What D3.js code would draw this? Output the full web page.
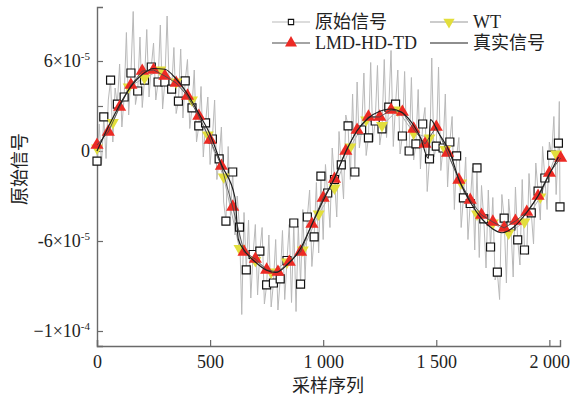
<!DOCTYPE html>
<html><head><meta charset="utf-8">
<script src="https://cdn.jsdelivr.net/npm/d3@7"></script>
<style>
html,body{margin:0;padding:0;background:#fff;}
svg{display:block;}
text{font-family:"Liberation Serif","Times New Roman","Noto Sans CJK SC",serif;}
</style></head><body>
<svg id="c" width="585" height="399"></svg>
<script>
// ---- data (y values in units of 1e-5) ----
const rawStep = 10; // 原始信号 sampled every 10 points
const rawValues = [
 -0.67, 1.8, -0.9, 2.27, -0.5, 3.4, 4.73, 0.6, 4.2, 3.13,
 5.8, 1.6, 3.6, 7.9, 2.4, 5.2, 9.3, 3.1, 4.0, 7.6,
 2.9, 4.73, 8.1, 3.6, 5.6, 7.2, 3.4, 4.6, 8.4, 2.8,
 4.6, 9.0, 3.9, 4.13, 6.9, 2.5, 3.33, 6.8, 2.2, 4.67,
 6.1, 1.5, 2.87, 5.4, 0.6, 1.67, 4.3, -0.4, 1.87, 3.6,
 -0.9, 0.8, 3.4, -1.9, -0.53, 1.6, -3.4, -4.67, 0.3, -4.3,
 -1.4, -5.6, -3.0, -5.07, -10.9, -4.1, -7.93, -4.6, -9.8, -6.9,
 -4.9, -9.6, -6.67, -5.1, -10.2, -8.93, -5.6, -10.4, -8.8, -5.9,
 -10.6, -8.53, -5.3, -9.9, -7.3, -4.9, -10.1, -4.8, -10.7, -5.0,
 -8.87, -3.9, -8.6, -4.4, -2.6, -7.7, -5.73, -2.1, -6.8, -1.67,
 -5.9, -0.9, -2.8, -5.1, 0.2, -1.9, -4.4, 1.3, -0.93, -3.2,
 2.4, 1.67, -1.9, 3.8, -1.4, 4.6, 0.2, 1.4, 5.2, -0.3,
 0.87, 5.9, 0.6, 2.0, 5.7, 0.4, 1.47, 6.1, 0.9, 2.93,
 6.7, 0.3, 3.13, 5.4, -0.2, 1.0, 5.3, 0.1, 0, 4.9,
 -0.6, 0.47, 4.1, -1.2, 1.8, 2.9, -2.7, -0.53, 6.2, -0.4,
 0.33, 5.6, -1.3, 0.2, 3.8, -2.4, 0.6, 2.3, -3.9, -0.33,
 0.9, -5.1, -3.13, -0.4, -5.9, -3.5, -1.1, -6.6, -1.13, -7.1,
 -2.3, -4.53, -7.8, -2.6, -6.4, -3.1, -8.6, -8.07, -9.9, -2.9,
 -4.47, -8.8, -3.2, -5.0, -8.4, -2.4, -5.93, -7.6, -1.9, -6.6,
 -6.9, -1.5, -4.13, -6.2, -0.8, -2.67, -4.6, 0.3, -1.8, -3.9,
 0.6, -0.27, 2.3, -2.9, 0.53
];
const rawTail = [[2044, 3.3], [2047, -3.73]];
const rawMarkerEvery = 3; // square marker every 30 samples

const wtStep = 70;
const wtValues = [0.2, 1.9, 4.27, 4.87, 5.4, 4.6, 3.4, 1.07, -1.73, -6.5,
 -7.3, -8.07, -7.4, -6.6, -4.2, -2.47, 0.27, 2.07, 1.7, 2.73,
 1.2, 0.87, 0.1, -2.13, -4.2, -4.8, -5.47, -4.73, -3.07, -0.2];

const lmdStep = 50;
const lmdValues = [0.4, 1.27, 2.93, 4.4, 5.33, 5.4, 5.0, 4.53, 3.67, 2.33,
 0.73, -1.0, -3.73, -6.73, -7.2, -7.93, -8.07, -7.4, -6.73, -4.87,
 -3.13, -1.87, 0, 1.4, 2.27, 2.27, 2.73, 2.6, 1.47, 0.47,
 1.6, -0.13, -1.93, -3.27, -4.27, -4.73, -5.13, -4.67, -4.07, -3.0,
 -1.47, -0.47];

const trueSamples = [0, 40, 80, 120, 160, 200, 250, 300, 350, 400, 450, 500, 550, 610, 625, 650, 700, 750, 790, 840, 900, 950, 1000, 1050, 1100, 1150, 1200, 1250, 1300, 1350, 1400, 1430, 1465, 1474, 1510, 1560, 1600, 1650, 1700, 1750, 1790, 1840, 1900, 1950, 2000, 2040];
const trueValues = [0, 1.3, 2.5, 3.6, 4.5, 5.1, 5.5, 5.45, 4.8, 3.8, 2.5, 1.1, -0.9, -3.1, -5.9, -6.6, -7.4, -7.95, -8.1, -7.6, -6.5, -4.9, -3.3, -1.8, -0.05, 1.35, 2.2, 2.65, 2.8, 2.55, 1.7, 0.9, -0.5, 2.1, 1.2, -0.1, -1.9, -3.4, -4.5, -5.2, -5.45, -5.1, -4.1, -3.0, -1.55, -0.4];

const xTicks = [0, 500, 1000, 1500, 2000];
const xTickLabels = ["0", "500", "1 000", "1 500", "2 000"];
const yTicks = [6, 3, 0, -6, -12];
const yTickMantissa = ["6×10", "", "0", "-6×10", "\u22121×10"];
const yTickExponent = ["-5", "", "", "-5", "-4"];
const seriesNames = ["原始信号", "WT", "LMD-HD-TD", "真实信号"];
const xTitle = "采样序列";
const yTitle = "原始信号";

// ---- drawing ----
const svg = d3.select("#c");
const x = d3.scaleLinear().domain([0, 2047]).range([97, 560]);
const y = d3.scaleLinear().domain([-13, 9.6]).range([346, 7]);

const axisColor = "#6a6a6a", textColor = "#222";
const cRaw = "#b9b9b9", cWT = "#e2de3c", cLMD = "#ec2a24", cTrue = "#1e1e1e", cLMDLine = "#4a4a4a", cWTLine = "#9a9a9a";

// axes
const gx = svg.append("g").attr("transform", "translate(0,346)")
  .call(d3.axisBottom(x).tickValues(xTicks).tickFormat((d, i) => xTickLabels[i])
    .tickSizeInner(-6).tickSizeOuter(-6).tickPadding(9));
const gy = svg.append("g").attr("transform", "translate(97,0)")
  .call(d3.axisLeft(y).tickValues(yTicks).tickFormat("")
    .tickSizeInner(-6).tickSizeOuter(-6).tickPadding(7));
[gx, gy].forEach(g => {
  g.select(".domain").attr("stroke", axisColor).attr("stroke-width", 1.4);
  g.selectAll(".tick line").attr("stroke", axisColor).attr("stroke-width", 1.2);
  g.selectAll(".tick text").attr("fill", textColor).attr("font-size", 18)
    .attr("font-family", '"Liberation Serif","Times New Roman",serif');
});
gy.selectAll(".tick text").each(function (d, i) {
  const t = d3.select(this);
  t.text(yTickMantissa[i]);
  if (yTickExponent[i]) t.append("tspan").attr("font-size", 11).attr("dy", -7).text(yTickExponent[i]);
});

// raw signal
const rawPts = rawValues.map((v, i) => [i * rawStep, v]).concat(rawTail);
const line = d3.line().x(d => x(d[0])).y(d => y(d[1]));

// WT line (under noise)
const wtPts = wtValues.map((v, i) => [i * wtStep, v]);
svg.append("path").datum(wtPts).attr("d", line).attr("fill", "none").attr("stroke", cWTLine).attr("stroke-width", 0.8);

svg.append("path").datum(rawPts).attr("d", line).attr("fill", "none")
  .attr("stroke", cRaw).attr("stroke-width", 1);

const rawMarks = rawPts.filter((d, i) => (i < rawValues.length && i % rawMarkerEvery === 0) || i === rawPts.length - 1);
svg.append("g").selectAll("path").data(rawMarks).join("path")
  .attr("d", d3.symbol(d3.symbolSquare, 64))
  .attr("transform", d => `translate(${x(d[0])},${y(d[1])})`)
  .attr("fill", "#fff").attr("stroke", "#111").attr("stroke-width", 1.2);

// WT markers
svg.append("g").selectAll("path").data(wtPts).join("path")
  .attr("d", d3.symbol(d3.symbolTriangle, 62))
  .attr("transform", d => `translate(${x(d[0])},${y(d[1])}) rotate(180)`)
  .attr("fill", cWT);

// LMD markers
const lmdPts = lmdValues.map((v, i) => [i * lmdStep, v]);
svg.append("g").selectAll("path").data(lmdPts).join("path")
  .attr("d", d3.symbol(d3.symbolTriangle, 75))
  .attr("transform", d => `translate(${x(d[0])},${y(d[1])})`)
  .attr("fill", cLMD);

// LMD line and true line
svg.append("path").datum(lmdPts).attr("d", line).attr("fill", "none").attr("stroke", cLMDLine).attr("stroke-width", 0.9);
const truePts = trueSamples.map((s, i) => [s, trueValues[i]]);
svg.append("path").datum(truePts).attr("d", line.curve(d3.curveMonotoneX)).attr("fill", "none").attr("stroke", cTrue).attr("stroke-width", 1.2);

// axis titles
svg.append("text").attr("x", 328).attr("y", 392).attr("text-anchor", "middle")
  .attr("font-size", 18).attr("fill", textColor).attr("font-family", '"Noto Sans CJK SC",sans-serif').text(xTitle);
svg.append("text").attr("transform", "translate(20,169) rotate(-90)").attr("text-anchor", "middle")
  .attr("dy", "0.35em").attr("font-size", 18).attr("fill", textColor).attr("font-family", '"Noto Sans CJK SC",sans-serif').text(yTitle);

// legend
const legend = svg.append("g");
const items = [
  {name: seriesNames[0], x: 272, y: 22, line: cRaw, sym: "sq"},
  {name: seriesNames[1], x: 430, y: 22, line: cWTLine, sym: "down"},
  {name: seriesNames[2], x: 272, y: 43, line: cLMDLine, sym: "up"},
  {name: seriesNames[3], x: 430, y: 43, line: cTrue, sym: null}
];
items.forEach(it => {
  const g = legend.append("g").attr("transform", `translate(${it.x},${it.y})`);
  g.append("line").attr("x1", 0).attr("x2", 38).attr("stroke", it.line).attr("stroke-width", 1.2);
  if (it.sym === "sq") g.append("path").attr("d", d3.symbol(d3.symbolSquare, 28)()).attr("transform", "translate(19,0)")
    .attr("fill", "#fff").attr("stroke", "#111").attr("stroke-width", 1.1);
  if (it.sym === "down") g.append("path").attr("d", d3.symbol(d3.symbolTriangle, 55)()).attr("transform", "translate(19,0) rotate(180)").attr("fill", cWT);
  if (it.sym === "up") g.append("path").attr("d", d3.symbol(d3.symbolTriangle, 62)()).attr("transform", "translate(19,0)").attr("fill", cLMD);
  g.append("text").attr("x", 43).attr("dy", "0.35em").attr("font-size", 18).attr("fill", textColor).text(it.name);
});
</script></body></html>
